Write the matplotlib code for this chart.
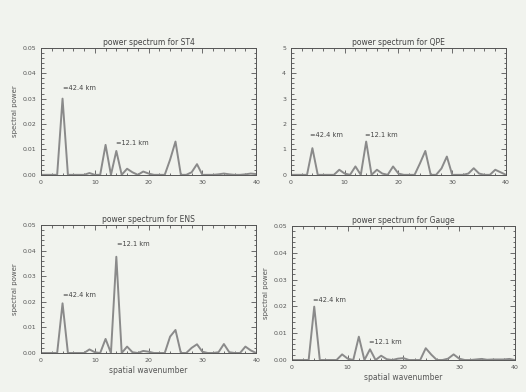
import matplotlib.pyplot as plt
from matplotlib.ticker import AutoMinorLocator, MultipleLocator
import numpy as np

wavenumber = list(range(41))

st4 = [0, 0, 0, 0, 0.030, 0, 0, 0, 0, 0.0007, 0, 0, 0.0118, 0, 0.0094, 0,
       0.0024, 0.001, 0, 0.0013, 0.0005, 0, 0, 0, 0.006, 0.0131, 0, 0, 0.001,
       0.0042, 0, 0, 0, 0.0002, 0.0005, 0.0002, 0, 0, 0.0002, 0.0005, 0.0003]
qpe = [0, 0, 0, 0, 1.05, 0, 0, 0, 0, 0.2, 0.05, 0, 0.33, 0, 1.31, 0,
       0.2, 0.05, 0, 0.33, 0.05, 0, 0, 0, 0.45, 0.94, 0, 0, 0.25,
       0.72, 0, 0, 0, 0.05, 0.26, 0.05, 0, 0, 0.2, 0.1, 0]
ens = [0, 0, 0, 0, 0.0194, 0, 0, 0, 0, 0.0014, 0.0003, 0, 0.0055, 0, 0.0376, 0,
       0.0025, 0.0003, 0, 0.0008, 0.0005, 0, 0, 0, 0.0064, 0.009, 0, 0, 0.002,
       0.0034, 0.0005, 0, 0, 0.0003, 0.0035, 0.0003, 0, 0, 0.0025, 0.001, 0]
gauge = [0, 0, 0, 0, 0.0199, 0, 0, 0, 0, 0.0021, 0.0005, 0, 0.0087, 0, 0.004, 0,
         0.0016, 0.0003, 0, 0.0005, 0.0007, 0, 0, 0, 0.0044, 0.002, 0, 0, 0.0005,
         0.0021, 0.0005, 0, 0, 0.0002, 0.0004, 0.0001, 0.0002, 0.0002, 0.0002, 0.0004, 0]

titles = ['power spectrum for ST4', 'power spectrum for QPE',
          'power spectrum for ENS', 'power spectrum for Gauge']
notes = {
    'ST4': [(4.1, 0.034, '=42.4 km'), (14.0, 0.0125, '=12.1 km')],
    'QPE': [(3.6, 1.58, '=42.4 km'), (13.7, 1.58, '=12.1 km')],
    'ENS': [(4.1, 0.0227, '=42.4 km'), (14.1, 0.0427, '=12.1 km')],
    'Gauge': [(3.7, 0.0224, '=42.4 km'), (13.9, 0.0067, '=12.1 km')],
}

bg = '#f1f3ee'
fg = '#555555'
fig = plt.figure(figsize=(5.26, 3.92), dpi=100, facecolor=bg)

panels = [
    ('ST4', st4, [0.078, 0.554, 0.409, 0.324], 0.05, '{:.2f}', True, False),
    ('QPE', qpe, [0.553, 0.554, 0.409, 0.324], 5, '{:.0f}', False, False),
    ('ENS', ens, [0.078, 0.0995, 0.409, 0.3265], 0.05, '{:.2f}', True, True),
    ('Gauge', gauge, [0.555, 0.0816, 0.424, 0.342], 0.05, '{:.2f}', True, True),
]

for (name, vals, rect, ymax, fmt, ylab, xlab), title in zip(panels, titles):
    ax = fig.add_axes(rect, facecolor=bg)
    ax.plot(wavenumber, vals, color='#8a8a8a', lw=1.4)
    ax.set_xlim(0, 40)
    ax.set_ylim(0, ymax)
    ax.xaxis.set_major_locator(MultipleLocator(10))
    ax.yaxis.set_major_locator(MultipleLocator(ymax / 5))
    ax.xaxis.set_minor_locator(AutoMinorLocator(5))
    ax.yaxis.set_minor_locator(AutoMinorLocator(5))
    ax.set_yticklabels([fmt.format(v) for v in ax.get_yticks()])
    ax.tick_params(which='both', direction='in', top=True, right=True,
                   labelsize=4.5, colors=fg, width=0.6)
    ax.tick_params(which='major', length=3.5)
    ax.tick_params(which='minor', length=1.8)
    for s in ax.spines.values():
        s.set_color(fg)
        s.set_linewidth(0.7)
    ax.set_title(title, fontsize=5.5, color='#444444', pad=2)
    if ylab:
        ax.set_ylabel('spectral power', fontsize=5, color=fg, labelpad=3)
    if xlab:
        ax.set_xlabel('spatial wavenumber', fontsize=5.5, color=fg, labelpad=2)
    for x, y, t in notes[name]:
        ax.text(x, y, t, fontsize=4.8, color='#444444', va='center')

fig.savefig('out.png', dpi=100, facecolor=bg)
